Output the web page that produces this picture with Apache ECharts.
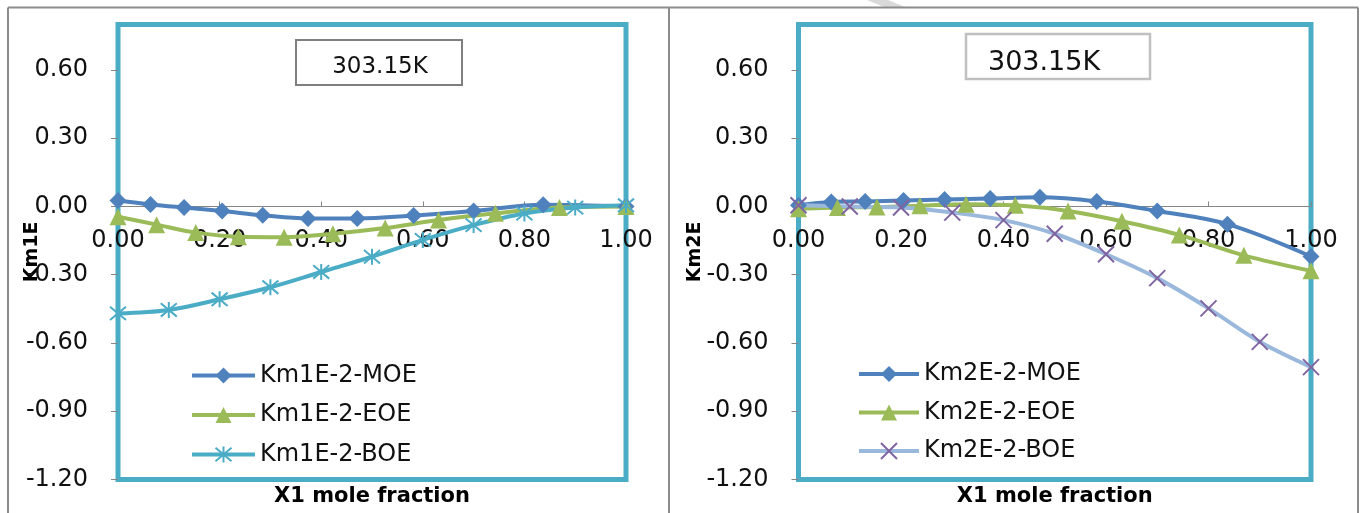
<!DOCTYPE html>
<html>
<head>
<meta charset="utf-8">
<script src="https://cdn.jsdelivr.net/npm/echarts@6/dist/echarts.min.js"></script>
<style>
html,body{margin:0;padding:0;background:#fff;}
#chart{width:1364px;height:513px;}
</style>
</head>
<body>
<div id="chart"></div>
<script>
// ---- data ----
const xMOE = [0, 0.064, 0.13, 0.205, 0.285, 0.374, 0.471, 0.582, 0.70, 0.837, 1.0];
const xEOE = [0, 0.076, 0.153, 0.237, 0.327, 0.423, 0.526, 0.631, 0.743, 0.869, 1.0];
const xBOE = [0, 0.1, 0.2, 0.3, 0.4, 0.5, 0.6, 0.7, 0.8, 0.9, 1.0];

const km1MOE = [0.026, 0.009, -0.005, -0.02, -0.039, -0.053, -0.053, -0.04, -0.02, 0.007, 0.0];
const km1EOE = [-0.045, -0.08, -0.115, -0.133, -0.135, -0.12, -0.095, -0.06, -0.03, -0.005, 0.0];
const km1BOE = [-0.47, -0.455, -0.408, -0.355, -0.288, -0.221, -0.147, -0.082, -0.031, -0.005, 0.005];

const km2MOE = [0.005, 0.02, 0.022, 0.026, 0.03, 0.035, 0.04, 0.022, -0.02, -0.078, -0.22];
const km2EOE = [-0.01, -0.005, -0.003, 0.003, 0.01, 0.005, -0.02, -0.065, -0.125, -0.215, -0.283];
const km2BOE = [0.005, 0.0, -0.005, -0.027, -0.06, -0.12, -0.21, -0.315, -0.448, -0.595, -0.706];

const names1 = ['Km1E-2-MOE', 'Km1E-2-EOE', 'Km1E-2-BOE'];
const names2 = ['Km2E-2-MOE', 'Km2E-2-EOE', 'Km2E-2-BOE'];
const yTicks = [-1.2, -0.9, -0.6, -0.3, 0, 0.3, 0.6];
const xTicks = [0, 0.2, 0.4, 0.6, 0.8, 1.0];
const tempLabel = '303.15K';
const xName = 'X1 mole fraction';
const yName1 = 'Km1E';
const yName2 = 'Km2E';

function pairs(xs, ys) { return xs.map((x, i) => [x, ys[i]]); }

const FONT = 'DejaVu Sans';
const STAR = 'path://M0,0L10,10M10,0L0,10M5,-1L5,11';
const CROSS = 'path://M0,0L10,10M10,0L0,10';

// x axis sits on y = 0 : the grid bottom is at -1.2, zero is 1.2/2.0 of the plot height above it
const GRID_TOP = 24.4, GRID_H = 455.1, Y_MIN = -1.2, Y_MAX = 0.8;
const ZERO_OFFSET = -GRID_H * (0 - Y_MIN) / (Y_MAX - Y_MIN);

function xAxisDef(gi) {
  return {
    gridIndex: gi, type: 'value', min: 0, max: 1, interval: 0.2,
    position: 'bottom', offset: ZERO_OFFSET,
    name: xName, nameLocation: 'middle', nameGap: 280, nameMoveOverlap: false,
    nameTextStyle: { fontFamily: FONT, fontWeight: 'bold', fontSize: 21, color: '#000' },
    axisLine: { onZero: false, lineStyle: { color: '#868686', width: 1.2 } },
    axisTick: { inside: true, length: 5, customValues: xTicks, lineStyle: { color: '#868686' } },
    axisLabel: { margin: 22, fontFamily: FONT, fontSize: 24, color: '#111', customValues: xTicks,
      formatter: v => Number(v).toFixed(2) },
    splitLine: { show: false }
  };
}
function yAxisDef(gi, nm, gap) {
  return {
    gridIndex: gi, type: 'value', min: Y_MIN, max: Y_MAX, interval: 0.3,
    name: nm, nameLocation: 'middle', nameRotate: 90, nameGap: gap, nameMoveOverlap: false,
    nameTextStyle: { fontFamily: FONT, fontWeight: 'bold', fontSize: 19, color: '#000' },
    axisLine: { show: false, onZero: false },
    axisTick: { show: true, length: 7, customValues: yTicks, lineStyle: { color: '#868686' } },
    axisLabel: { margin: 30, fontFamily: FONT, fontSize: 24, color: '#111', customValues: yTicks,
      formatter: v => Number(v).toFixed(2) },
    splitLine: { show: false }
  };
}

function lineSeries(name, gi, data, color, symbol, size, itemStyle, lineColor) {
  return {
    name: name, type: 'line', xAxisIndex: gi, yAxisIndex: gi,
    data: data, smooth: 0.35, symbol: symbol, symbolSize: size,
    showAllSymbol: true,
    lineStyle: { color: lineColor || color, width: 4 },
    itemStyle: itemStyle || { color: color },
    emphasis: { disabled: true },
    animation: false
  };
}

const chart = echarts.init(document.getElementById('chart'));
const option = {
  backgroundColor: '#fff',
  animation: false,
  grid: [
    { left: 118, top: GRID_TOP, width: 508, height: GRID_H, show: true, containLabel: false,
      outerBoundsMode: 'none',
      borderColor: '#4bacc6', borderWidth: 5, backgroundColor: 'transparent' },
    { left: 798.5, top: GRID_TOP, width: 512.5, height: GRID_H, show: true, containLabel: false,
      outerBoundsMode: 'none',
      borderColor: '#4bacc6', borderWidth: 5, backgroundColor: 'transparent' }
  ],
  xAxis: [xAxisDef(0), xAxisDef(1)],
  yAxis: [yAxisDef(0, yName1, 76), yAxisDef(1, yName2, 94)],
  legend: [
    { data: names1, orient: 'vertical', left: 185, top: 358.5, itemWidth: 63, itemHeight: 20,
      itemGap: 15.5, lineStyle: { width: 4 },
      textStyle: { fontFamily: FONT, fontSize: 24, color: '#111', lineHeight: 23 },
      selectedMode: false },
    { data: names2, orient: 'vertical', left: 852, top: 357, itemWidth: 60, itemHeight: 20,
      itemGap: 14.5, lineStyle: { width: 4 },
      textStyle: { fontFamily: FONT, fontSize: 24, color: '#111', lineHeight: 23 },
      selectedMode: false }
  ],
  series: [
    lineSeries(names1[0], 0, pairs(xMOE, km1MOE), '#4f81bd', 'diamond', 17),
    lineSeries(names1[1], 0, pairs(xEOE, km1EOE), '#9bbb59', 'triangle', 17),
    lineSeries(names1[2], 0, pairs(xBOE, km1BOE), '#4bacc6', STAR, 16,
      { color: 'rgba(0,0,0,0)', borderColor: '#4bacc6', borderWidth: 2 }, '#4bacc6'),
    lineSeries(names2[0], 1, pairs(xMOE, km2MOE), '#4f81bd', 'diamond', 17),
    lineSeries(names2[1], 1, pairs(xEOE, km2EOE), '#9bbb59', 'triangle', 17),
    lineSeries(names2[2], 1, pairs(xBOE, km2BOE), '#8064a2', CROSS, 16,
      { color: 'rgba(0,0,0,0)', borderColor: '#8064a2', borderWidth: 2 }, '#9ab8dc')
  ],
  graphic: [
    { type: 'polygon', shape: { points: [[867,0],[888,0],[905,7],[884,7]] },
      style: { fill: '#d9d9d9' }, z: 0 },
    { type: 'line', shape: { x1: 8, y1: 7.5, x2: 1358, y2: 7.5 }, style: { stroke: '#8c8c8c', lineWidth: 2 } },
    { type: 'line', shape: { x1: 8, y1: 7.5, x2: 8, y2: 513 }, style: { stroke: '#8c8c8c', lineWidth: 2 } },
    { type: 'line', shape: { x1: 669, y1: 7.5, x2: 669, y2: 513 }, style: { stroke: '#8c8c8c', lineWidth: 2 } },
    { type: 'line', shape: { x1: 1358, y1: 7.5, x2: 1358, y2: 513 }, style: { stroke: '#8c8c8c', lineWidth: 2 } },
    { type: 'rect', shape: { x: 296, y: 40, width: 166, height: 45 },
      style: { fill: '#fff', stroke: '#7f7f7f', lineWidth: 2 }, z: 10 },
    { type: 'text', x: 380, y: 67.5, z: 11,
      style: { text: tempLabel, font: '23px "DejaVu Sans"', fill: '#111', align: 'center', verticalAlign: 'middle' } },
    { type: 'rect', shape: { x: 966, y: 34, width: 184, height: 45 },
      style: { fill: '#fff', stroke: '#c0c0c0', lineWidth: 2.5 }, z: 10 },
    { type: 'text', x: 988, y: 62.5, z: 11,
      style: { text: tempLabel, font: '27px "DejaVu Sans"', fill: '#111', align: 'left', verticalAlign: 'middle' } }
  ]
};
chart.setOption(option);
</script>
</body>
</html>
